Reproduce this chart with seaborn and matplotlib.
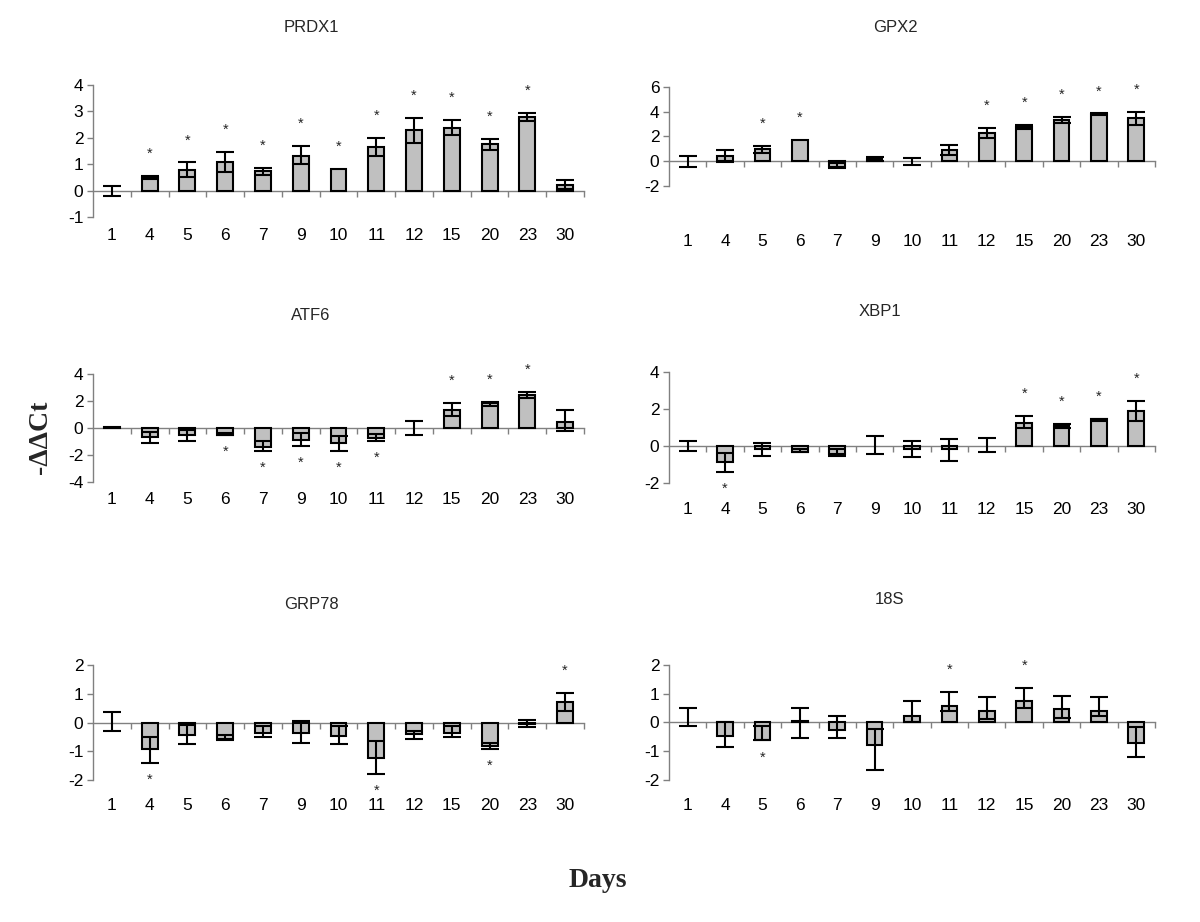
import numpy as np
import pandas as pd
import matplotlib.pyplot as plt
import seaborn as sns

# x categories (days)
days = ["1", "4", "5", "6", "7", "9", "10", "11", "12", "15", "20", "23", "30"]

# bar heights, whisker bottom / top
prdx1_mean = [0, 0.5, 0.77, 1.08, 0.75, 1.32, 0.82, 1.64, 2.31, 2.39, 1.75, 2.8, 0.2]
prdx1_low = [-0.19, 0.45, 0.5, 0.7, 0.58, 1.0, 0.82, 1.32, 1.82, 2.09, 1.55, 2.65, 0.05]
prdx1_high = [0.19, 0.55, 1.07, 1.46, 0.87, 1.69, 0.82, 2.01, 2.75, 2.68, 1.95, 2.94, 0.39]
prdx1_sig = ["4", "5", "6", "7", "9", "10", "11", "12", "15", "20", "23"]

gpx2_mean = [0, 0.43, 0.97, 1.72, -0.43, 0.16, 0, 0.91, 2.3, 2.79, 3.32, 3.78, 3.46]
gpx2_low = [-0.43, -0.05, 0.64, 1.72, -0.56, 0.0, -0.27, 0.51, 1.9, 2.63, 3.06, 3.7, 2.92]
gpx2_high = [0.38, 0.91, 1.23, 1.72, -0.16, 0.32, 0.24, 1.31, 2.68, 2.9, 3.59, 3.86, 3.99]
gpx2_sig = ["5", "6", "12", "15", "20", "23", "30"]

atf6_mean = [0.05, -0.66, -0.54, -0.49, -1.38, -0.89, -1.13, -0.74, 0, 1.35, 1.83, 2.46, 0.47]
atf6_low = [0.05, -1.1, -0.98, -0.55, -1.72, -1.35, -1.7, -0.98, -0.49, 0.91, 1.65, 2.19, -0.2]
atf6_high = [0.05, -0.3, -0.12, -0.4, -0.98, -0.4, -0.62, -0.44, 0.49, 1.85, 1.95, 2.68, 1.36]
atf6_sig = ["6", "7", "9", "10", "11", "15", "20", "23"]

xbp1_mean = [0, -0.9, -0.18, -0.32, -0.42, 0, -0.18, -0.18, 0, 1.26, 1.08, 1.44, 1.91]
xbp1_low = [-0.27, -1.44, -0.54, -0.36, -0.54, -0.45, -0.63, -0.81, -0.36, 0.99, 0.99, 1.35, 1.35]
xbp1_high = [0.27, -0.41, 0.18, -0.15, -0.18, 0.54, 0.27, 0.36, 0.4, 1.62, 1.17, 1.48, 2.43]
xbp1_sig = ["4", "15", "20", "23", "30"]

grp78_mean = [0, -0.93, -0.42, -0.56, -0.35, -0.37, -0.46, -1.22, -0.41, -0.35, -0.81, -0.05, 0.73]
grp78_low = [-0.29, -1.39, -0.75, -0.6, -0.5, -0.7, -0.75, -1.8, -0.58, -0.52, -0.93, -0.17, 0.4]
grp78_high = [0.35, -0.52, -0.08, -0.44, -0.12, 0.06, -0.12, -0.64, -0.29, -0.12, -0.7, 0.09, 1.04]
grp78_sig = ["4", "11", "20", "30"]

s18_mean = [0, -0.49, -0.6, 0.04, -0.26, -0.78, 0.23, 0.58, 0.41, 0.76, 0.47, 0.41, -0.7]
s18_low = [-0.14, -0.87, -0.63, -0.55, -0.55, -1.67, 0.0, 0.41, 0.12, 0.52, 0.17, 0.23, -1.19]
s18_high = [0.5, 0.0, -0.14, 0.5, 0.21, -0.23, 0.76, 1.05, 0.87, 1.2, 0.93, 0.87, -0.17]
s18_sig = ["5", "11", "15"]

sns.set_style("white")
plt.rcParams["font.family"] = ["Liberation Sans", "DejaVu Sans"]
plt.rcParams["axes.unicode_minus"] = False

W, H = 1200, 922
fig = plt.figure(figsize=(W / 100, H / 100), dpi=100)

gray = "#808080"

# name, data, (left, top, right, bottom) px, ylim, yticks, title pos px
panels = [
    ("PRDX1", prdx1_mean, prdx1_low, prdx1_high, prdx1_sig, (93, 78.4, 584, 225), (-1.3, 4.25), (-1, 4, 1), (311, 27)),
    ("GPX2", gpx2_mean, gpx2_low, gpx2_high, gpx2_sig, (669, 82, 1155, 231), (-5.64, 6.4), (-2, 6, 2), (895, 27)),
    ("ATF6", atf6_mean, atf6_low, atf6_high, atf6_sig, (93, 360.5, 584, 489), (-4.52, 5.0), (-4, 4, 2), (311, 316)),
    ("XBP1", xbp1_mean, xbp1_low, xbp1_high, xbp1_sig, (669, 368.6, 1155, 499), (-2.89, 4.2), (-2, 4, 2), (880, 311)),
    ("GRP78", grp78_mean, grp78_low, grp78_high, grp78_sig, (93, 659.25, 584, 795), (-2.52, 2.2), (-2, 2, 1), (311, 604)),
    ("18S", s18_mean, s18_low, s18_high, s18_sig, (669, 655, 1155, 795), (-2.53, 2.35), (-2, 2, 1), (890, 600)),
]

for name, mean, low, high, sig, box, ylim, yt, tpos in panels:
    l, t, r, b = box
    ax = fig.add_axes([l / W, 1 - b / H, (r - l) / W, (b - t) / H])
    df = pd.DataFrame({"day": days, "value": mean})
    sns.barplot(data=df, x="day", y="value", order=days, color="#C0C0C0", saturation=1,
                width=0.42, edgecolor="black", linewidth=1.5, errorbar=None, ax=ax, zorder=3)
    for p in ax.patches:
        if p.get_height() == 0:
            p.set_linewidth(0)

    m = np.array(mean)
    lo = np.array(low)
    hi = np.array(high)
    x = np.arange(len(days))
    has = (hi - lo) > 0
    ax.errorbar(x[has], m[has], yerr=[m[has] - lo[has], hi[has] - m[has]], fmt="none",
                ecolor="black", elinewidth=1.5, capsize=6.5, capthick=1.5, zorder=4)

    # significance stars
    for i, d in enumerate(days):
        if d in sig:
            if m[i] >= 0:
                ax.annotate("*", xy=(i, hi[i]), xytext=(0, 13), textcoords="offset points",
                            ha="center", va="baseline", fontsize=10.5)
            else:
                ax.annotate("*", xy=(i, lo[i]), xytext=(0, -15), textcoords="offset points",
                            ha="center", va="baseline", fontsize=10.5)

    ax.set_xlim(-0.5, len(days) - 0.5)
    ax.set_ylim(*ylim)
    y0, y1, st = yt
    ax.set_yticks(np.arange(y0, y1 + st / 2, st))
    ax.set_yticklabels([str(int(v)) for v in np.arange(y0, y1 + st / 2, st)])
    ax.set_xlabel("")
    ax.set_ylabel("")

    ax.spines["right"].set_visible(False)
    ax.spines["bottom"].set_visible(False)
    ax.spines["left"].set_bounds(y0, y1)
    ax.spines["left"].set_color(gray)
    ax.spines["left"].set_linewidth(1)
    ax.spines["top"].set_position(("data", 0))
    ax.spines["top"].set_color(gray)
    ax.spines["top"].set_linewidth(1)
    ax.spines["top"].set_zorder(2)

    ax.set_xticks(x)
    ax.set_xticklabels(days)
    ax.set_xticks(np.arange(0.5, len(days), 1), minor=True)
    ax.tick_params(axis="x", which="major", length=0, pad=2, labelsize=12.5,
                   labelcolor="black", bottom=True, top=False)
    ax.tick_params(axis="x", which="minor", top=True, bottom=False, direction="in",
                   length=4, width=1, color=gray)
    ax.tick_params(axis="y", left=True, direction="out", length=4, width=1, color=gray,
                   labelsize=12.5, labelcolor="black", pad=3)

    fig.text(tpos[0] / W, 1 - tpos[1] / H, name, ha="center", va="center", fontsize=12)

fig.text(40 / W, 1 - 437 / H, "-ΔΔCt", rotation=90, ha="center", va="center",
         family=["Liberation Serif", "DejaVu Serif"], fontweight="bold", fontsize=20)
fig.text(598 / W, 1 - 880 / H, "Days", ha="center", va="center",
         family=["Liberation Serif", "DejaVu Serif"], fontweight="bold", fontsize=20)

fig.savefig("out.png", dpi=100, facecolor="white")
